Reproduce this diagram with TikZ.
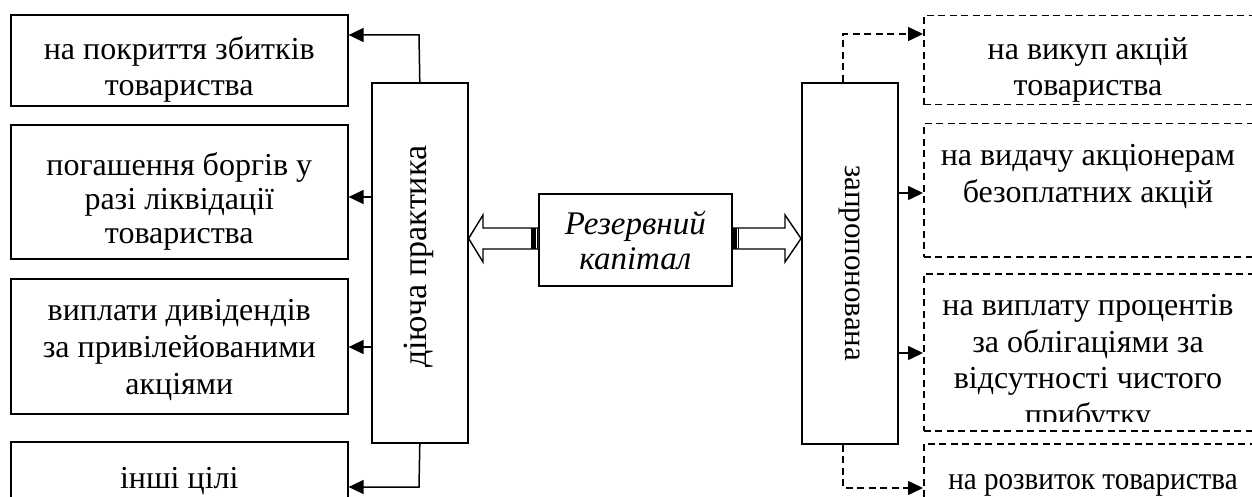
\documentclass[tikz,border=0pt]{standalone}
\usepackage{fontspec}
\setmainfont{Liberation Serif}
\usetikzlibrary{arrows.meta,calc}
\begin{document}
\begin{tikzpicture}[x=1pt,y=-1pt,
  every node/.style={inner sep=0pt},
  box/.style={draw, line width=1.6pt, rectangle, anchor=north west},
  dbox/.style={draw, line width=1.5pt, rectangle, anchor=north west, dash pattern=on 7pt off 4.5pt},
  txt/.style={font=\fontsize{32}{36.8}\selectfont, align=center, anchor=north, execute at begin node=\strut},
  arr/.style={line width=1.5pt, -{Triangle[length=15pt,width=14pt]}},
  darr/.style={arr, dash pattern=on 7pt off 4.5pt},
  hollow/.style={draw, line width=1.4pt, fill=white, line join=miter}
]
\useasboundingbox (0,0) rectangle (1252,497);

% left boxes
\node[box, minimum width=337pt, minimum height=91pt] (L1) at (10,14) {};
\node[box, minimum width=337pt, minimum height=134pt] (L2) at (10,124) {};
\node[box, minimum width=337pt, minimum height=135pt] (L3) at (10,278) {};
\node[box, minimum width=337pt, minimum height=92pt] (L4) at (10,441) {};
\node[txt] (L1t) at ([yshift=-22pt]L1.north) {на покриття збитків\\товариства};
\node[txt, font=\fontsize{32}{34}\selectfont] (L2t) at ([yshift=-28pt]L2.north) {погашення боргів у\\разі ліквідації\\товариства};
\node[txt] (L3t) at ([yshift=-21.5pt]L3.north) {виплати дивідендів\\за привілейованими\\акціями};
\node[txt] (L4t) at ([yshift=-21.5pt]L4.north) {інші цілі};

% left vertical box
\node[box, minimum width=96pt, minimum height=360pt] (lv) at (371,82) {};
\node[font=\fontsize{34}{40}\selectfont, rotate=90] (lvt) at ([yshift=6pt,xshift=-1pt]lv.center) {діюча практика};

% centre
\node[box, minimum width=193pt, minimum height=92pt] (C) at (538,193) {};
\node[font=\fontsize{33}{35}\selectfont\itshape, align=center] (Ct) at ([yshift=-1pt]C.center) {Резервний\\капітал};

% right vertical box
\node[box, minimum width=96pt, minimum height=361pt] (rv) at (801,82) {};
\node[font=\fontsize{31}{36}\selectfont, rotate=-90] (rvt) at (rv.center) {запропонована};

% right dashed boxes
\node[dbox, minimum width=340pt, minimum height=89pt] (R1) at (923,15) {};
\node[dbox, minimum width=340pt, minimum height=133pt] (R2) at (923,123) {};
\node[dbox, minimum width=340pt, minimum height=157pt] (R3) at (923,273) {};
\node[dbox, minimum width=340pt, minimum height=90pt] (R4) at (923,443) {};
\node[txt] (R1t) at ([yshift=-22pt]R1.north -| 1088,0) {на викуп акцій\\товариства};
\node[txt] (R2t) at ([yshift=-21pt]R2.north -| 1088,0) {на видачу акціонерам\\безоплатних акцій};
\begin{scope}
\clip (923,273) rectangle (1252,421);
\node[txt] (R3t) at ([yshift=-21pt]R3.north -| 1088,0) {на виплату процентів\\за облігаціями за\\відсутності чистого\\прибутку};
\end{scope}
\node[txt] (R4t) at ([yshift=-21pt]R4.north -| 1093,0) {\scalebox{0.91}[1]{на розвиток товариства}};

% coordinates for connector levels
\coordinate (a1) at (419,35);
\coordinate (a2) at (0,197);
\coordinate (a3) at (0,347);
\coordinate (a4) at (419,487);
\coordinate (b1) at (843,34);
\coordinate (b2) at (0,193);
\coordinate (b3) at (0,353);
\coordinate (b4) at (843,488);

% left connectors
\draw[arr] (lv.north) -- (a1) -- (a1 -| L1.east);
\draw[arr] (lv.west |- a2) -- (L2.east |- a2);
\draw[arr] (lv.west |- a3) -- (L3.east |- a3);
\draw[arr] (lv.south) -- (a4) -- (a4 -| L4.east);

% right connectors
\draw[darr] (b1 |- rv.north) -- (b1) -- (b1 -| R1.west);
\draw[arr] (rv.east |- b2) -- (R2.west |- b2);
\draw[arr] (rv.east |- b3) -- (R3.west |- b3);
\draw[darr] (b4 |- rv.south) -- (b4) -- (b4 -| R4.west);

% hollow block arrows
\draw[hollow] (C.west |- 0,228) -- (483,228) -- (483,215) -- (lv.east |- 0,238.5) -- (483,262) -- (483,249) -- (C.west |- 0,249);
\fill (531,228) rectangle (535.5,249);
\draw[line width=0.8pt] (537,228) -- (537,249);
\draw[hollow] (C.east |- 0,228) -- (785,228) -- (785,215) -- (rv.west |- 0,238.5) -- (785,262) -- (785,249) -- (C.east |- 0,249);
\fill (732,228) rectangle (736.5,249);
\draw[line width=0.8pt] (738.5,228) -- (738.5,249);
\end{tikzpicture}
\end{document}
